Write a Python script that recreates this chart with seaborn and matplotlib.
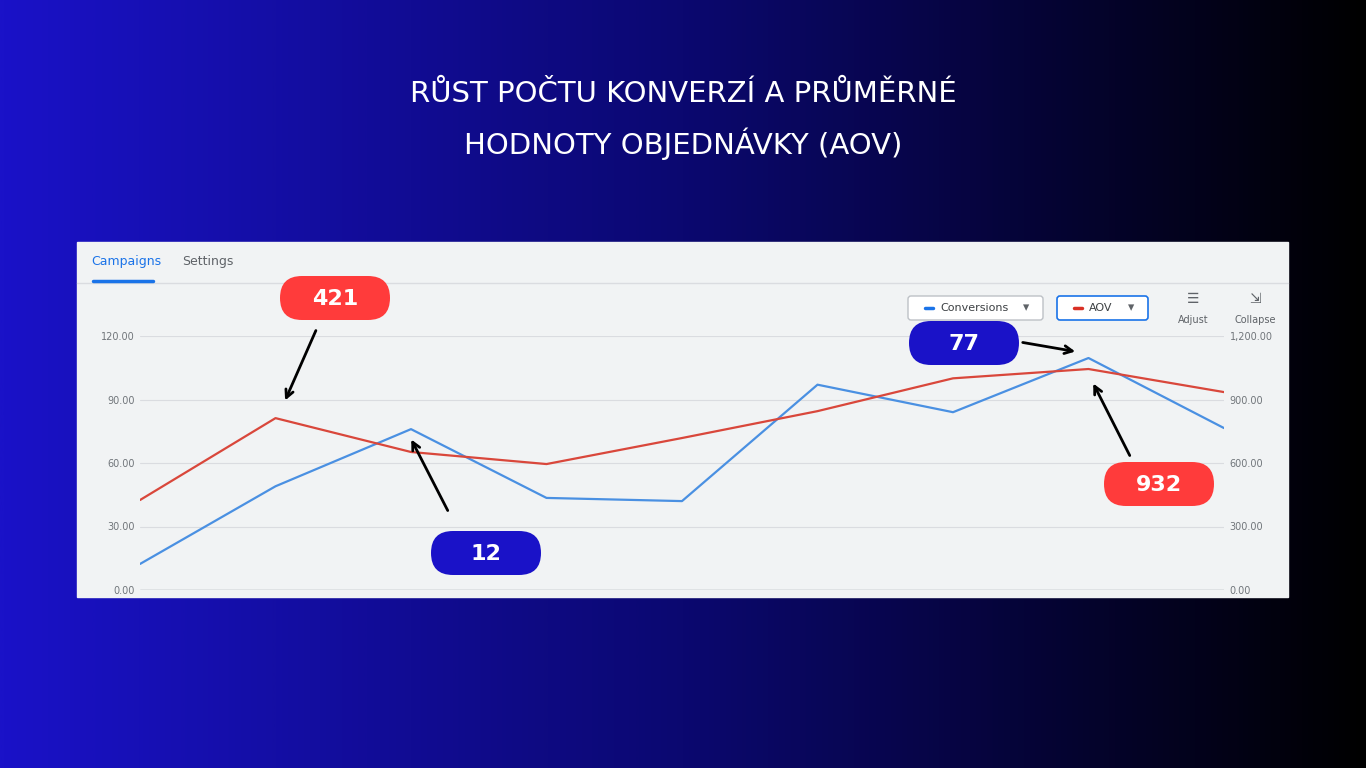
import numpy as np
import pandas as pd
import matplotlib
matplotlib.use("Agg")
import matplotlib.pyplot as plt
from matplotlib.patches import Rectangle, FancyBboxPatch
from matplotlib.colors import LinearSegmentedColormap
import seaborn as sns

periods = list(range(9))
conversions = [12.3, 49, 76, 43.5, 42, 97, 84, 109.6, 76.5]
aov = [425, 812, 652, 595, 718, 845, 1000, 1044, 935]
left_ticks = [0, 30, 60, 90, 120]
right_ticks = [0, 300, 600, 900, 1200]
title = "RŮST POČTU KONVERZÍ A PRŮMĚRNÉ\nHODNOTY OBJEDNÁVKY (AOV)"
badges = [("421", "red"), ("12", "blue"), ("77", "blue"), ("932", "red")]

sns.set_theme(style="white")
plt.rcParams['font.family'] = ['DejaVu Sans']

W, H = 1366, 768
fig = plt.figure(figsize=(13.66, 7.68), dpi=100)

bg = fig.add_axes([0, 0, 1, 1], zorder=0)
grad = np.linspace(0, 1, 512)[None, :]
cmap = LinearSegmentedColormap.from_list("g", ["#1a12c8", "#0b0870", "#000000"])
bg.imshow(grad, aspect="auto", cmap=cmap, extent=[0, W, H, 0])
bg.set_xlim(0, W); bg.set_ylim(H, 0); bg.axis("off")
bg.add_patch(Rectangle((77, 242), 1211, 355, color="#f1f3f4", zorder=2))
bg.plot([77, 1288], [283, 283], color="#dadce0", lw=1, zorder=3)
bg.plot([93, 153], [281, 281], color="#1a73e8", lw=2.5, zorder=3)
bg.text(91, 262, "Campaigns", color="#1a73e8", fontsize=9, va="center", zorder=3)
bg.text(182, 262, "Settings", color="#5f6368", fontsize=9, va="center", zorder=3)
bg.text(683, 120, title, color="white", fontsize=21, ha="center", va="center", linespacing=1.75)
bg.add_patch(FancyBboxPatch((908, 296), 135, 24, boxstyle="round,pad=0,rounding_size=3", fc="white", ec="#bdc1c6", lw=1, zorder=3))
bg.add_patch(FancyBboxPatch((1057, 296), 91, 24, boxstyle="round,pad=0,rounding_size=3", fc="white", ec="#1a73e8", lw=1.2, zorder=3))
bg.plot([925, 933], [308, 308], color="#1a73e8", lw=2.5, zorder=4)
bg.text(940, 308, "Conversions", fontsize=8, color="#3c4043", va="center", zorder=4)
bg.text(1026, 308, "▾", fontsize=9, color="#5f6368", va="center", ha="center", zorder=4)
bg.plot([1074, 1082], [308, 308], color="#d93025", lw=2.5, zorder=4)
bg.text(1089, 308, "AOV", fontsize=8, color="#3c4043", va="center", zorder=4)
bg.text(1131, 308, "▾", fontsize=9, color="#5f6368", va="center", ha="center", zorder=4)
bg.text(1193, 299, "☰", fontsize=10, color="#5f6368", ha="center", va="center", zorder=4)
bg.text(1193, 320, "Adjust", fontsize=7, color="#5f6368", ha="center", va="center", zorder=4)
bg.text(1255, 299, "⇲", fontsize=10, color="#5f6368", ha="center", va="center", zorder=4)
bg.text(1255, 320, "Collapse", fontsize=7, color="#5f6368", ha="center", va="center", zorder=4)

ax = fig.add_axes([140 / W, 1 - 590 / H, 1084 / W, 254 / H], zorder=2)
ax.patch.set_alpha(0)
df = pd.DataFrame({"p": periods, "c": conversions, "a": aov})
sns.lineplot(data=df, x="p", y="c", ax=ax, color="#4a90e2", lw=1.6)
ax.set_xlim(0, 8); ax.set_ylim(0, 120)
ax.set_yticks(left_ticks)
ax.set_yticklabels([f"{v:.2f}" for v in left_ticks], fontsize=7, color="#70757a")
ax.set_xticks([])
ax.set_xlabel(""); ax.set_ylabel("")
for v in left_ticks[1:]:
    ax.axhline(v, color="#dadce0", lw=0.8, zorder=0)
ax.axhline(0, color="#9aa0a6", lw=1, zorder=0)
for s in ax.spines.values():
    s.set_visible(False)
ax.tick_params(axis="y", length=0, pad=4)
ax2 = ax.twinx()
sns.lineplot(data=df, x="p", y="a", ax=ax2, color="#d9473b", lw=1.6)
ax2.set_ylim(0, 1200)
ax2.set_yticks(right_ticks)
ax2.set_yticklabels([f"{v:,.2f}" for v in right_ticks], fontsize=7, color="#70757a")
ax2.set_ylabel("")
ax2.tick_params(axis="y", length=0, pad=4)
for s in ax2.spines.values():
    s.set_visible(False)

ov = fig.add_axes([0, 0, 1, 1], zorder=5)
ov.set_xlim(0, W); ov.set_ylim(H, 0); ov.axis("off")
centers = [(335, 298), (486, 553), (964, 343), (1159, 484)]
arrows = [((317, 328), (284, 403)), ((449, 513), (410, 437)), ((1020, 342), (1078, 352)), ((1131, 458), (1092, 381))]
colors = {"red": "#ff3b3b", "blue": "#1a12c8"}
for (txt, c), (cx, cy) in zip(badges, centers):
    ov.add_patch(FancyBboxPatch((cx - 55, cy - 22), 110, 44, boxstyle="round,pad=0,rounding_size=22", fc=colors[c], ec="none"))
    ov.text(cx, cy + 1, txt, color="white", fontsize=16, fontweight="bold", ha="center", va="center")
for (s, e) in arrows:
    ov.annotate("", xy=e, xytext=s, arrowprops=dict(arrowstyle="->", color="black", lw=2, mutation_scale=14))

fig.savefig("out.png", dpi=100)
